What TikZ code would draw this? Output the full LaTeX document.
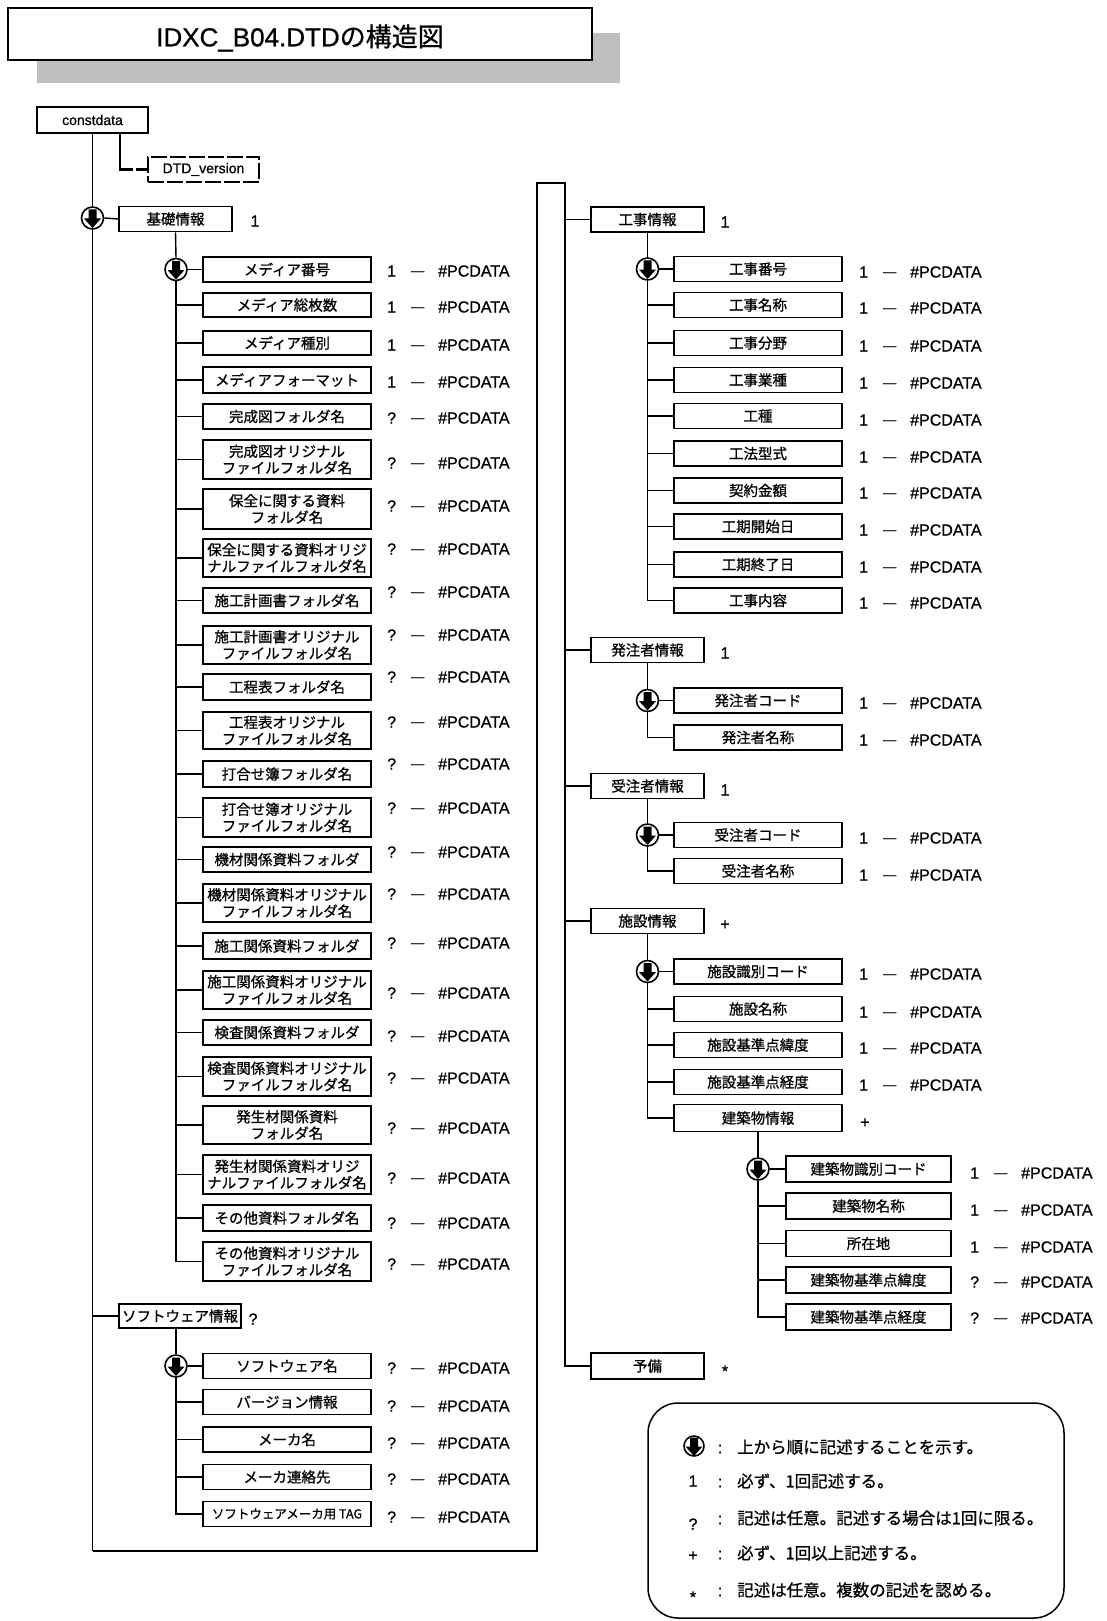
\documentclass[tikz,border=0pt]{standalone}
\usepackage{fontspec}
\setmainfont{Liberation Sans}
\newfontfamily\jp[FakeBold=0.8]{Noto Sans CJK JP}
\newfontfamily\lab[FakeBold=0.8]{Liberation Sans}
\newcommand{\pcd}[1]{\makebox[24pt][l]{#1}\makebox[27pt][l]{\raisebox{1.5pt}{\fontsize{13pt}{13pt}\selectfont —}}\#PCDATA}
\tikzset{
  treeline/.style={line width=1.4pt},
  mainline/.style={line width=2.4pt},
  elbox/.style={draw, line width=1.6pt, fill=white, inner sep=0pt, align=center, font=\jp\fontsize{14.5pt}{16.5pt}\selectfont},
  grp/.style={elbox, minimum width=113pt, minimum height=25pt},
  lbox/.style={elbox, minimum width=168pt, minimum height=25pt},
  bbox/.style={elbox, minimum width=165pt, minimum height=26pt},
  card/.style={anchor=west, inner sep=0pt, font=\lab\fontsize{16pt}{18pt}\selectfont},
  mult/.style={inner sep=0pt, font=\lab\fontsize{16pt}{18pt}\selectfont},
  seq/.style={circle, draw, line width=1.6pt, fill=white, minimum size=22pt, inner sep=0pt,
    path picture={\fill[black, shift={(path picture bounding box.center)}] (-4pt,8.5pt) rectangle (4pt,-0.5pt) (-8.5pt,-0.5pt) -- (8.5pt,-0.5pt) -- (0pt,-10pt) -- cycle;}},
  lgtext/.style={anchor=west, inner sep=0pt, font=\jp\fontsize{16.5pt}{18pt}\selectfont},
}
\begin{document}
\begin{tikzpicture}[x=1pt,y=-1pt]
\useasboundingbox (0,0) rectangle (1107,1621);
% title
\fill[black!25] (37,33) rectangle (620,83);
\draw[line width=2pt, fill=white] (8,8) rectangle (592,60);
\node[inner sep=0pt, font=\lab\fontsize{26pt}{28pt}\selectfont] (title) at (300,38) {IDXC\_B04.DTD{\jp の構造図}};

% root
\node[draw, line width=1.6pt, minimum width=111pt, minimum height=26pt, inner sep=0pt, font=\lab\fontsize{14pt}{16pt}\selectfont] (c0) at (92.5,120) {constdata};
\node[draw, line width=1.6pt, dash pattern=on 16pt off 3pt, minimum width=111pt, minimum height=25pt, inner sep=0pt, font=\lab\fontsize{14pt}{16pt}\selectfont] (dtd) at (203.5,169.5) {DTD\_version};
\draw[line width=2.4pt, dash pattern=on 49pt off 3pt on 30pt] ([xshift=27.5pt]c0.south) |- (dtd.west);

\node[seq] (seq0) at (92.5,218) {};
\node[grp] (kiso) at (175.5,219) {基礎情報};
\node[mult] (mkiso) at (255,221) {1};
\node[seq] (sqm) at (176,269.5) {};

\foreach \nn/\yy/\hh/\ty/\cd/\ly in {
1/269.5/25/{メディア番号}/1/271,
2/305/24/{メディア総枚数}/1/307,
3/343/24/{メディア種別}/1/345,
4/380/26/{メディアフォーマット}/1/382,
5/416.5/25/{完成図フォルダ名}/?/418,
6/459.5/39/{完成図オリジナル\\ファイルフォルダ名}/?/463,
7/509/40/{保全に関する資料\\フォルダ名}/?/506,
8/558/38/{保全に関する資料オリジ\\ナルファイルフォルダ名}/?/549,
9/600.5/25/{施工計画書フォルダ名}/?/592,
10/645/38/{施工計画書オリジナル\\ファイルフォルダ名}/?/635,
11/687/26/{工程表フォルダ名}/?/677,
12/730.5/37/{工程表オリジナル\\ファイルフォルダ名}/?/722,
13/774/26/{打合せ簿フォルダ名}/?/764,
14/817.5/39/{打合せ簿オリジナル\\ファイルフォルダ名}/?/808,
15/859.5/25/{機材関係資料フォルダ}/?/852,
16/903/38/{機材関係資料オリジナル\\ファイルフォルダ名}/?/894,
17/946/26/{施工関係資料フォルダ}/?/943,
18/990/38/{施工関係資料オリジナル\\ファイルフォルダ名}/?/993,
19/1032.5/25/{検査関係資料フォルダ}/?/1036,
20/1076.5/39/{検査関係資料オリジナル\\ファイルフォルダ名}/?/1078,
21/1125/38/{発生材関係資料\\フォルダ名}/?/1128,
22/1174.5/39/{発生材関係資料オリジ\\ナルファイルフォルダ名}/?/1178,
23/1218/26/{その他資料フォルダ名}/?/1223,
24/1261.5/39/{その他資料オリジナル\\ファイルフォルダ名}/?/1264}{
  \node[lbox, minimum height=\hh pt] (m\nn) at (287,\yy) {\ty};
  \node[card] (lm\nn) at (387,\ly) {\pcd{\cd}};
}
\draw[treeline] (kiso.south) -- (sqm.north);
\draw[treeline] (sqm.east) -- (m1.west);
\foreach \nn in {2,...,23} \draw[treeline] (m\nn.west) -- (m\nn.west -| sqm.center);
\draw[treeline] (sqm.south) |- (m24.west);

% software
\node[elbox, minimum width=122pt, minimum height=24pt] (soft) at (180,1316) {ソフトウェア情報};
\node[mult] (msoft) at (253,1319) {?};
\node[seq] (sqsw) at (176,1366) {};
\foreach \nn/\yy/\ty/\ly in {
1/1366/{ソフトウェア名}/1368,
2/1402/{バージョン情報}/1406,
3/1439.5/{メーカ名}/1443,
4/1477/{メーカ連絡先}/1479,
5/1514/{\fontsize{12.5pt}{14pt}\selectfont ソフトウェアメーカ用 TAG}/1517}{
  \node[lbox] (sw\nn) at (287,\yy) {\ty};
  \node[card] (lsw\nn) at (387,\ly) {\pcd{?}};
}
\draw[treeline] (sqsw.north) -- (sqsw.north |- soft.south);
\draw[treeline] (sqsw.east) -- (sw1.west);
\foreach \nn in {2,3,4} \draw[treeline] (sw\nn.west) -- (sw\nn.west -| sqsw.center);
\draw[treeline] (sqsw.south) |- (sw5.west);

% main loop
\coordinate (bl) at (92.5,1551);
\coordinate (br) at (537,1551);
\coordinate (tr1) at (537,183);
\coordinate (tr2) at (565,183);
\draw[treeline] (c0.south) -- (seq0.north);
\draw[treeline] (seq0.east) -- (kiso.west);
\draw[treeline] (seq0.south) -- (bl);
\draw[treeline] (soft.west) -- (soft.west -| seq0.center);

% right groups
\node[grp] (kouji) at (647.5,219.5) {工事情報};
\node[mult] (mkouji) at (725,222) {1};
\node[seq] (sqk) at (647.5,269) {};
\foreach \nn/\yy/\ty/\ly in {
1/269/{工事番号}/272,
2/305/{工事名称}/308,
3/343/{工事分野}/346,
4/380/{工事業種}/383,
5/416/{工種}/420,
6/453.5/{工法型式}/457,
7/490.5/{契約金額}/493,
8/526.5/{工期開始日}/530,
9/564.5/{工期終了日}/567,
10/600.5/{工事内容}/603}{
  \node[lbox] (k\nn) at (758,\yy) {\ty};
  \node[card] (lk\nn) at (859,\ly) {\pcd{1}};
}
\draw[treeline] (kouji.south) -- (sqk.north);
\draw[treeline] (sqk.east) -- (k1.west);
\foreach \nn in {2,...,9} \draw[treeline] (k\nn.west) -- (k\nn.west -| sqk.center);
\draw[treeline] (sqk.south) |- (k10.west);

\node[grp] (hatchu) at (647.5,650) {発注者情報};
\node[mult] (mhatchu) at (725,653) {1};
\node[seq] (sqh) at (647.5,700.5) {};
\node[lbox] (h1) at (758,700.5) {発注者コード};
\node[card] (lh1) at (859,703) {\pcd{1}};
\node[lbox] (h2) at (758,737.5) {発注者名称};
\node[card] (lh2) at (859,740) {\pcd{1}};
\draw[treeline] (hatchu.south) -- (sqh.north);
\draw[treeline] (sqh.east) -- (h1.west);
\draw[treeline] (sqh.south) |- (h2.west);

\node[grp] (juchu) at (647.5,786) {受注者情報};
\node[mult] (mjuchu) at (725,790) {1};
\node[seq] (sqj) at (647.5,835) {};
\node[lbox] (j1) at (758,835) {受注者コード};
\node[card] (lj1) at (859,838) {\pcd{1}};
\node[lbox] (j2) at (758,871) {受注者名称};
\node[card] (lj2) at (859,875) {\pcd{1}};
\draw[treeline] (juchu.south) -- (sqj.north);
\draw[treeline] (sqj.east) -- (j1.west);
\draw[treeline] (sqj.south) |- (j2.west);

\node[grp] (shisetsu) at (647.5,921) {施設情報};
\node[mult] (mshisetsu) at (725,925) {+};
\node[seq] (sqs) at (647.5,971.5) {};
\foreach \nn/\yy/\ty/\ly in {
1/971.5/{施設識別コード}/974,
2/1009/{施設名称}/1012,
3/1045/{施設基準点緯度}/1048,
4/1082/{施設基準点経度}/1085}{
  \node[lbox] (s\nn) at (758,\yy) {\ty};
  \node[card] (ls\nn) at (859,\ly) {\pcd{1}};
}
\node[lbox, minimum height=27pt] (s5) at (758,1118) {建築物情報};
\node[mult] (ms5) at (865,1123) {+};
\draw[treeline] (shisetsu.south) -- (sqs.north);
\draw[treeline] (sqs.east) -- (s1.west);
\foreach \nn in {2,3,4} \draw[treeline] (s\nn.west) -- (s\nn.west -| sqs.center);
\draw[treeline] (sqs.south) |- (s5.west);

\node[seq] (sqb) at (758,1169) {};
\foreach \nn/\yy/\ty/\cd/\ly in {
1/1169/{建築物識別コード}/1/1173,
2/1206/{建築物名称}/1/1210,
3/1243.5/{所在地}/1/1247,
4/1280/{建築物基準点緯度}/?/1282,
5/1317/{建築物基準点経度}/?/1318}{
  \node[bbox] (b\nn) at (868.5,\yy) {\ty};
  \node[card] (lb\nn) at (970,\ly) {\pcd{\cd}};
}
\draw[treeline] (s5.south) -- (sqb.north);
\draw[treeline] (sqb.east) -- (b1.west);
\foreach \nn in {2,3,4} \draw[treeline] (b\nn.west) -- (b\nn.west -| sqb.center);
\draw[treeline] (sqb.south) |- (b5.west);

\node[grp, minimum height=26pt] (yobi) at (647.5,1366) {予備};
\node[mult] (myobi) at (725,1371) {*};

\draw[mainline] (bl) -- (br) -- (tr1) -- (tr2) |- (yobi.west);
\foreach \gg in {kouji,hatchu,juchu,shisetsu} \draw[treeline] (\gg.west) -- (\gg.west -| tr2);

% legend
\draw[line width=1.5pt, rounded corners=30pt] (648,1403) rectangle (1064,1618);
\node[seq, minimum size=20pt] (lg0) at (694,1446) {};
\node[mult] (lg1) at (693,1481) {1};
\node[mult] (lg2) at (693,1524) {?};
\node[mult] (lg3) at (693,1556) {+};
\node[mult] (lg4) at (693,1597) {*};
\foreach \yy/\nn in {1449/0,1483/1,1520/2,1555/3,1592/4}
  \node[mult] (lc\nn) at (720,\yy) {:};
\node[lgtext] (lt0) at (737,1447) {上から順に記述することを示す。};
\node[lgtext] (lt1) at (737,1481) {必ず、1回記述する。};
\node[lgtext] (lt2) at (737,1518) {記述は任意。記述する場合は1回に限る。};
\node[lgtext] (lt3) at (737,1553) {必ず、1回以上記述する。};
\node[lgtext] (lt4) at (737,1590) {記述は任意。複数の記述を認める。};
\end{tikzpicture}
\end{document}
